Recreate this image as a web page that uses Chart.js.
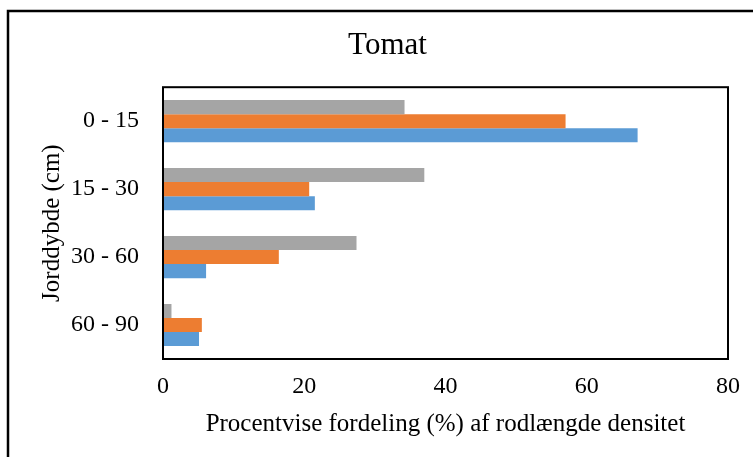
<!DOCTYPE html>
<html>
<head>
<meta charset="utf-8">
<script src="https://cdn.jsdelivr.net/npm/chart.js@4"></script>
<style>
  html, body { margin: 0; padding: 0; background: #fff; }
  #wrap { width: 753px; height: 457px; position: relative; }
</style>
</head>
<body>
<div id="wrap"><canvas id="tomatChart"></canvas></div>
<script>
// dybder (kategorier)
const depths = ["0 - 15", "15 - 30", "30 - 60", "60 - 90"];
// de tre serier
const graySeries = [34.2, 37.0, 27.4, 1.2];
const orangeSeries = [57.0, 20.7, 16.4, 5.5];
const blueSeries = [67.2, 21.5, 6.1, 5.1];
const xTicks = [0, 20, 40, 60, 80];

const serif = "'Liberation Serif', 'DejaVu Serif', serif";

// ramme om plotområdet og om hele figuren
const frames = {
    id: "frames",
    afterDraw(chart) {
        const ctx = chart.ctx;
        const a = chart.chartArea;
        ctx.save();
        ctx.strokeStyle = "#000";
        ctx.lineWidth = 2;
        ctx.strokeRect(a.left, a.top, a.right - a.left, a.bottom - a.top);
        ctx.lineWidth = 2.5;
        ctx.strokeRect(8, 11, 800, 500);
        ctx.restore();
    }
};

const ctx = document.getElementById("tomatChart").getContext("2d");
new Chart(ctx, {
    type: "bar",
    data: {
        labels: depths,
        datasets: [
            { label: "Serie 3", data: graySeries, backgroundColor: "#a5a5a5" },
            { label: "Serie 2", data: orangeSeries, backgroundColor: "#ed7d31" },
            { label: "Serie 1", data: blueSeries, backgroundColor: "#5b9bd5" },
        ],
    },
    options: {
        indexAxis: "y",
        responsive: true,
        maintainAspectRatio: false,
        animation: false,
        datasets: {
            bar: { categoryPercentage: 0.62, barPercentage: 1.0 },
        },
        layout: { padding: { left: 47, right: 25, top: 12, bottom: 10 } },
        scales: {
            x: {
                min: 0,
                max: 80,
                afterBuildTicks: (axis) => { axis.ticks = xTicks.map(v => ({ value: v })); },
                afterFit: (axis) => { axis.height = 88; },
                grid: { display: false, drawTicks: false },
                border: { display: false },
                ticks: { color: "#000", font: { family: serif, size: 24 }, padding: 13, maxRotation: 0 },
                title: {
                    display: true,
                    text: "Procentvise fordeling (%) af rodlængde densitet",
                    color: "#000",
                    font: { family: serif, size: 25 },
                    padding: { top: 4, bottom: 8 },
                },
            },
            y: {
                afterFit: (axis) => { axis.width = 116; },
                grid: { display: false, drawTicks: false },
                border: { display: false },
                ticks: { color: "#000", font: { family: serif, size: 24 }, padding: 24 },
                title: {
                    display: true,
                    text: "Jorddybde (cm)",
                    color: "#000",
                    font: { family: serif, size: 25 },
                    padding: { top: -10, bottom: 0 },
                },
            },
        },
        plugins: {
            legend: { display: false },
            tooltip: { enabled: false },
            title: {
                display: true,
                text: "Tomat",
                color: "#000",
                font: { family: serif, size: 31, weight: "normal" },
                padding: { top: 15, bottom: 23 },
            },
        },
    },
    plugins: [frames],
});
</script>
</body>
</html>
